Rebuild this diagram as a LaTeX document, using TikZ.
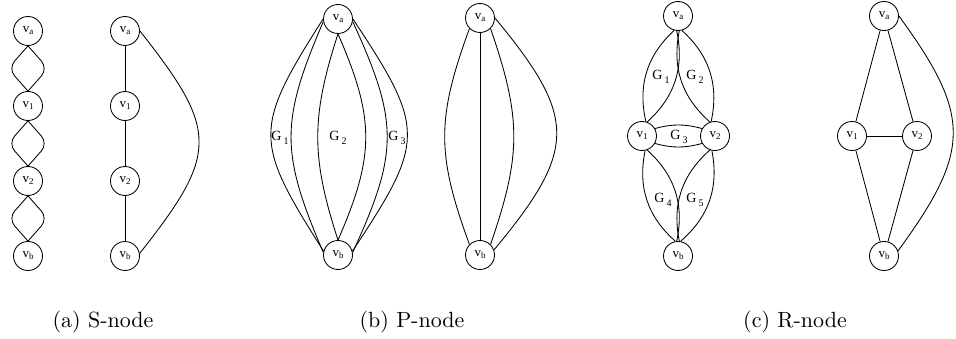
\documentclass[tikz,border=0pt]{standalone}
\usepackage{fontspec}
\usepackage{graphicx}
\usetikzlibrary{calc}
\newfontfamily\labfont{Liberation Serif}
% vertex label v_x and part label G_x
\newcommand{\vl}[1]{v\raisebox{-2pt}{\fontsize{9}{9}\selectfont #1}}
\newcommand{\gl}[1]{G\,\raisebox{-4pt}{\fontsize{10}{10}\selectfont #1}}
\tikzset{
  vtx/.style={circle,draw,minimum size=29pt,inner sep=0pt,
    font={\labfont\fontsize{13}{13}\selectfont}},
  glab/.style={inner sep=0pt,font={\labfont\fontsize{14}{14}\selectfont}},
  captxt/.style={anchor=base,inner sep=0pt,font={\fontsize{10}{12}\selectfont}}
}

\begin{document}
\begin{tikzpicture}[x=1pt,y=1pt,line width=0.85pt]
  \useasboundingbox (0,0) rectangle (956,338);
  % (a) S-node
  \node[vtx] (sva) at (28,307) {\vl{a}};
  \node[vtx] (sv1) at (28,232) {\vl{1}};
  \node[vtx] (sv2) at (28,157) {\vl{2}};
  \node[vtx] (svb) at (28,82) {\vl{b}};
  \foreach \u/\l in {sva/sv1,sv1/sv2,sv2/svb} {
    \draw[rounded corners=10pt] (\u.south) -- ($(\u)!0.5!(\l)+(-20,0)$) -- (\l.north);
    \draw[rounded corners=10pt] (\u.south) -- ($(\u)!0.5!(\l)+(20,0)$) -- (\l.north);
  }
  \node[vtx] (s2va) at (125,307) {\vl{a}};
  \node[vtx] (s2v1) at (125,232) {\vl{1}};
  \node[vtx] (s2v2) at (125,157) {\vl{2}};
  \node[vtx] (s2vb) at (125,82) {\vl{b}};
  \draw (s2va) -- (s2v1) -- (s2v2) -- (s2vb);
  \draw (s2va.east) .. controls +(79,-100) and +(79,100) .. (s2vb.10);
  % (b) P-node
  \node[vtx] (pva) at (338,319) {\vl{a}};
  \node[vtx] (pvb) at (338,83) {\vl{b}};
  \draw (pva.180) .. controls +(-70,-110) and +(-70,110) .. (pvb.165);
  \draw (pva.190) .. controls +(-43,-100) and +(-43,100) .. (pvb.170);
  \draw (pva.south) .. controls +(-27,-83) and +(-27,83) .. (pvb.north);
  \draw (pva.south) .. controls +(37,-85) and +(37,85) .. (pvb.north);
  \draw (pva.-10) .. controls +(46,-100) and +(46,100) .. (pvb.10);
  \draw (pva.0) .. controls +(73,-110) and +(73,110) .. (pvb.15);
  \node[glab] (pg1) at (280,200) {\gl{1}};
  \node[glab] (pg2) at (338,200) {\gl{2}};
  \node[glab] (pg3) at (397,200) {\gl{3}};
  \node[vtx] (p2va) at (480,320) {\vl{a}};
  \node[vtx] (p2vb) at (480,83) {\vl{b}};
  \draw (p2va.225) .. controls +(-33,-90) and +(-33,90) .. (p2vb.135);
  \draw (p2va) -- (p2vb);
  \draw (p2va.-45) .. controls +(31,-90) and +(31,90) .. (p2vb.45);
  \draw (p2va.east) .. controls +(83,-100) and +(83,100) .. (p2vb.20);
  % (c) R-node
  \node[vtx] (rva) at (678,322) {\vl{a}};
  \node[vtx] (rv1) at (642,202) {\vl{1}};
  \node[vtx] (rv2) at (715,202) {\vl{2}};
  \node[vtx] (rvb) at (678,82) {\vl{b}};
  \draw (rva.255) to[bend right=30] (rv1.75);
  \draw (rva.265) to[bend left=30] (rv1.70);
  \draw (rva.285) to[bend left=30] (rv2.105);
  \draw (rva.275) to[bend right=30] (rv2.110);
  \draw (rv1.30) to[bend left=15] (rv2.150);
  \draw (rv1.-30) to[bend right=15] (rv2.-150);
  \draw (rv1.-78) to[bend right=30] (rvb.100);
  \draw (rv1.-70) to[bend left=30] (rvb.95);
  \draw (rv2.-102) to[bend left=30] (rvb.80);
  \draw (rv2.-110) to[bend right=30] (rvb.85);
  \node[glab] (rg1) at (661,261) {\gl{1}};
  \node[glab] (rg2) at (695,261) {\gl{2}};
  \node[glab] (rg3) at (679,201) {\gl{3}};
  \node[glab] (rg4) at (663,138) {\gl{4}};
  \node[glab] (rg5) at (695,138) {\gl{5}};
  \node[vtx] (r2va) at (884,322) {\vl{a}};
  \node[vtx] (r2v1) at (852,202) {\vl{1}};
  \node[vtx] (r2v2) at (917,202) {\vl{2}};
  \node[vtx] (r2vb) at (884,82) {\vl{b}};
  \draw (r2va) -- (r2v1) -- (r2vb) -- (r2v2) -- (r2va);
  \draw (r2v1) -- (r2v2);
  \draw (r2va.east) .. controls +(73,-100) and +(73,100) .. (r2vb.20);
  % captions
  \node[captxt] (capa) at (103,11) {\scalebox{2.2}{(a) S-node}};
  \node[captxt] (capb) at (412,11) {\scalebox{2.2}{(b) P-node}};
  \node[captxt] (capc) at (795,11) {\scalebox{2.2}{(c) R-node}};
\end{tikzpicture}
\end{document}
